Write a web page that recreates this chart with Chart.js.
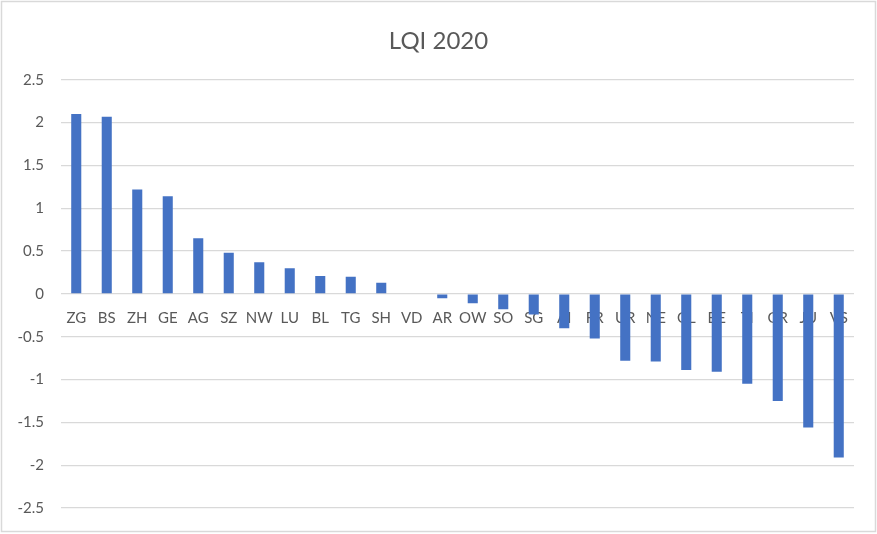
<!DOCTYPE html>
<html>
<head>
<meta charset="utf-8">
<script src="https://cdn.jsdelivr.net/npm/chart.js@4"></script>
<style>
  html, body { margin: 0; padding: 0; background: #fff; }
  #wrap { width: 877px; height: 534px; }
</style>
</head>
<body>
<div id="wrap"><canvas id="lqiChart" width="877" height="534"></canvas></div>
<script>
const cantons = ["ZG", "BS", "ZH", "GE", "AG", "SZ", "NW", "LU", "BL", "TG", "SH", "VD", "AR",
    "OW", "SO", "SG", "AI", "FR", "UR", "NE", "GL", "BE", "TI", "GR", "JU", "VS"];
const lqi = [2.10, 2.07, 1.22, 1.14, 0.65, 0.48, 0.37, 0.30, 0.21, 0.20, 0.13, 0, -0.05,
    -0.11, -0.18, -0.24, -0.40, -0.52, -0.78, -0.79, -0.89, -0.91, -1.05, -1.25, -1.56, -1.91];
const yMin = -2.5;
const yMax = 2.5;
const yStep = 0.5;

const textColor = "#595959";
const gridColor = "#d9d9d9";
const fontFamily = "Lato, 'Open Sans', sans-serif";

// light frame round the whole chart, like the excel chart area
const frame = {
    id: "frame",
    beforeDraw(chart) {
        const c = chart.ctx;
        c.save();
        c.fillStyle = "#fff";
        c.fillRect(0, 0, chart.width, chart.height);
        c.strokeStyle = gridColor;
        c.lineWidth = 1.5;
        c.strokeRect(1.5, 1.5, chart.width - 3, chart.height - 4);
        c.restore();
    }
};

new Chart(document.getElementById("lqiChart").getContext("2d"), {
    type: "bar",
    data: {
        labels: cantons,
        datasets: [{
            label: "LQI 2020",
            data: lqi,
            backgroundColor: "#4472C4",
            barPercentage: 0.33,
            categoryPercentage: 1.0
        }]
    },
    options: {
        responsive: false,
        animation: false,
        layout: { padding: { left: 0, right: 0, top: 0, bottom: 25 } },
        plugins: {
            legend: { display: false },
            tooltip: { enabled: false },
            title: {
                display: true,
                text: "LQI 2020",
                color: textColor,
                font: { family: fontFamily, size: 24, weight: "normal" },
                padding: { top: 27, bottom: 24 }
            }
        },
        scales: {
            x: {
                position: { y: 0 },
                grid: { display: false, drawTicks: false },
                border: { display: false },
                ticks: {
                    color: textColor,
                    font: { family: fontFamily, size: 15 },
                    padding: 15,
                    autoSkip: false,
                    maxRotation: 0
                }
            },
            y: {
                min: yMin,
                max: yMax,
                grid: { color: gridColor, lineWidth: 1.3, drawTicks: false },
                border: { display: false },
                ticks: {
                    stepSize: yStep,
                    color: textColor,
                    font: { family: fontFamily, size: 15 },
                    padding: 17,
                    callback: (v) => String(Math.round(v * 10) / 10)
                },
                afterFit(scale) { scale.width = 61; }
            },
            // empty right margin so the title centres on the whole chart
            yRight: {
                position: "right",
                grid: { display: false, drawTicks: false },
                border: { display: false },
                ticks: { display: false },
                afterFit(scale) { scale.width = 23; }
            }
        }
    },
    plugins: [frame]
});
</script>
</body>
</html>
